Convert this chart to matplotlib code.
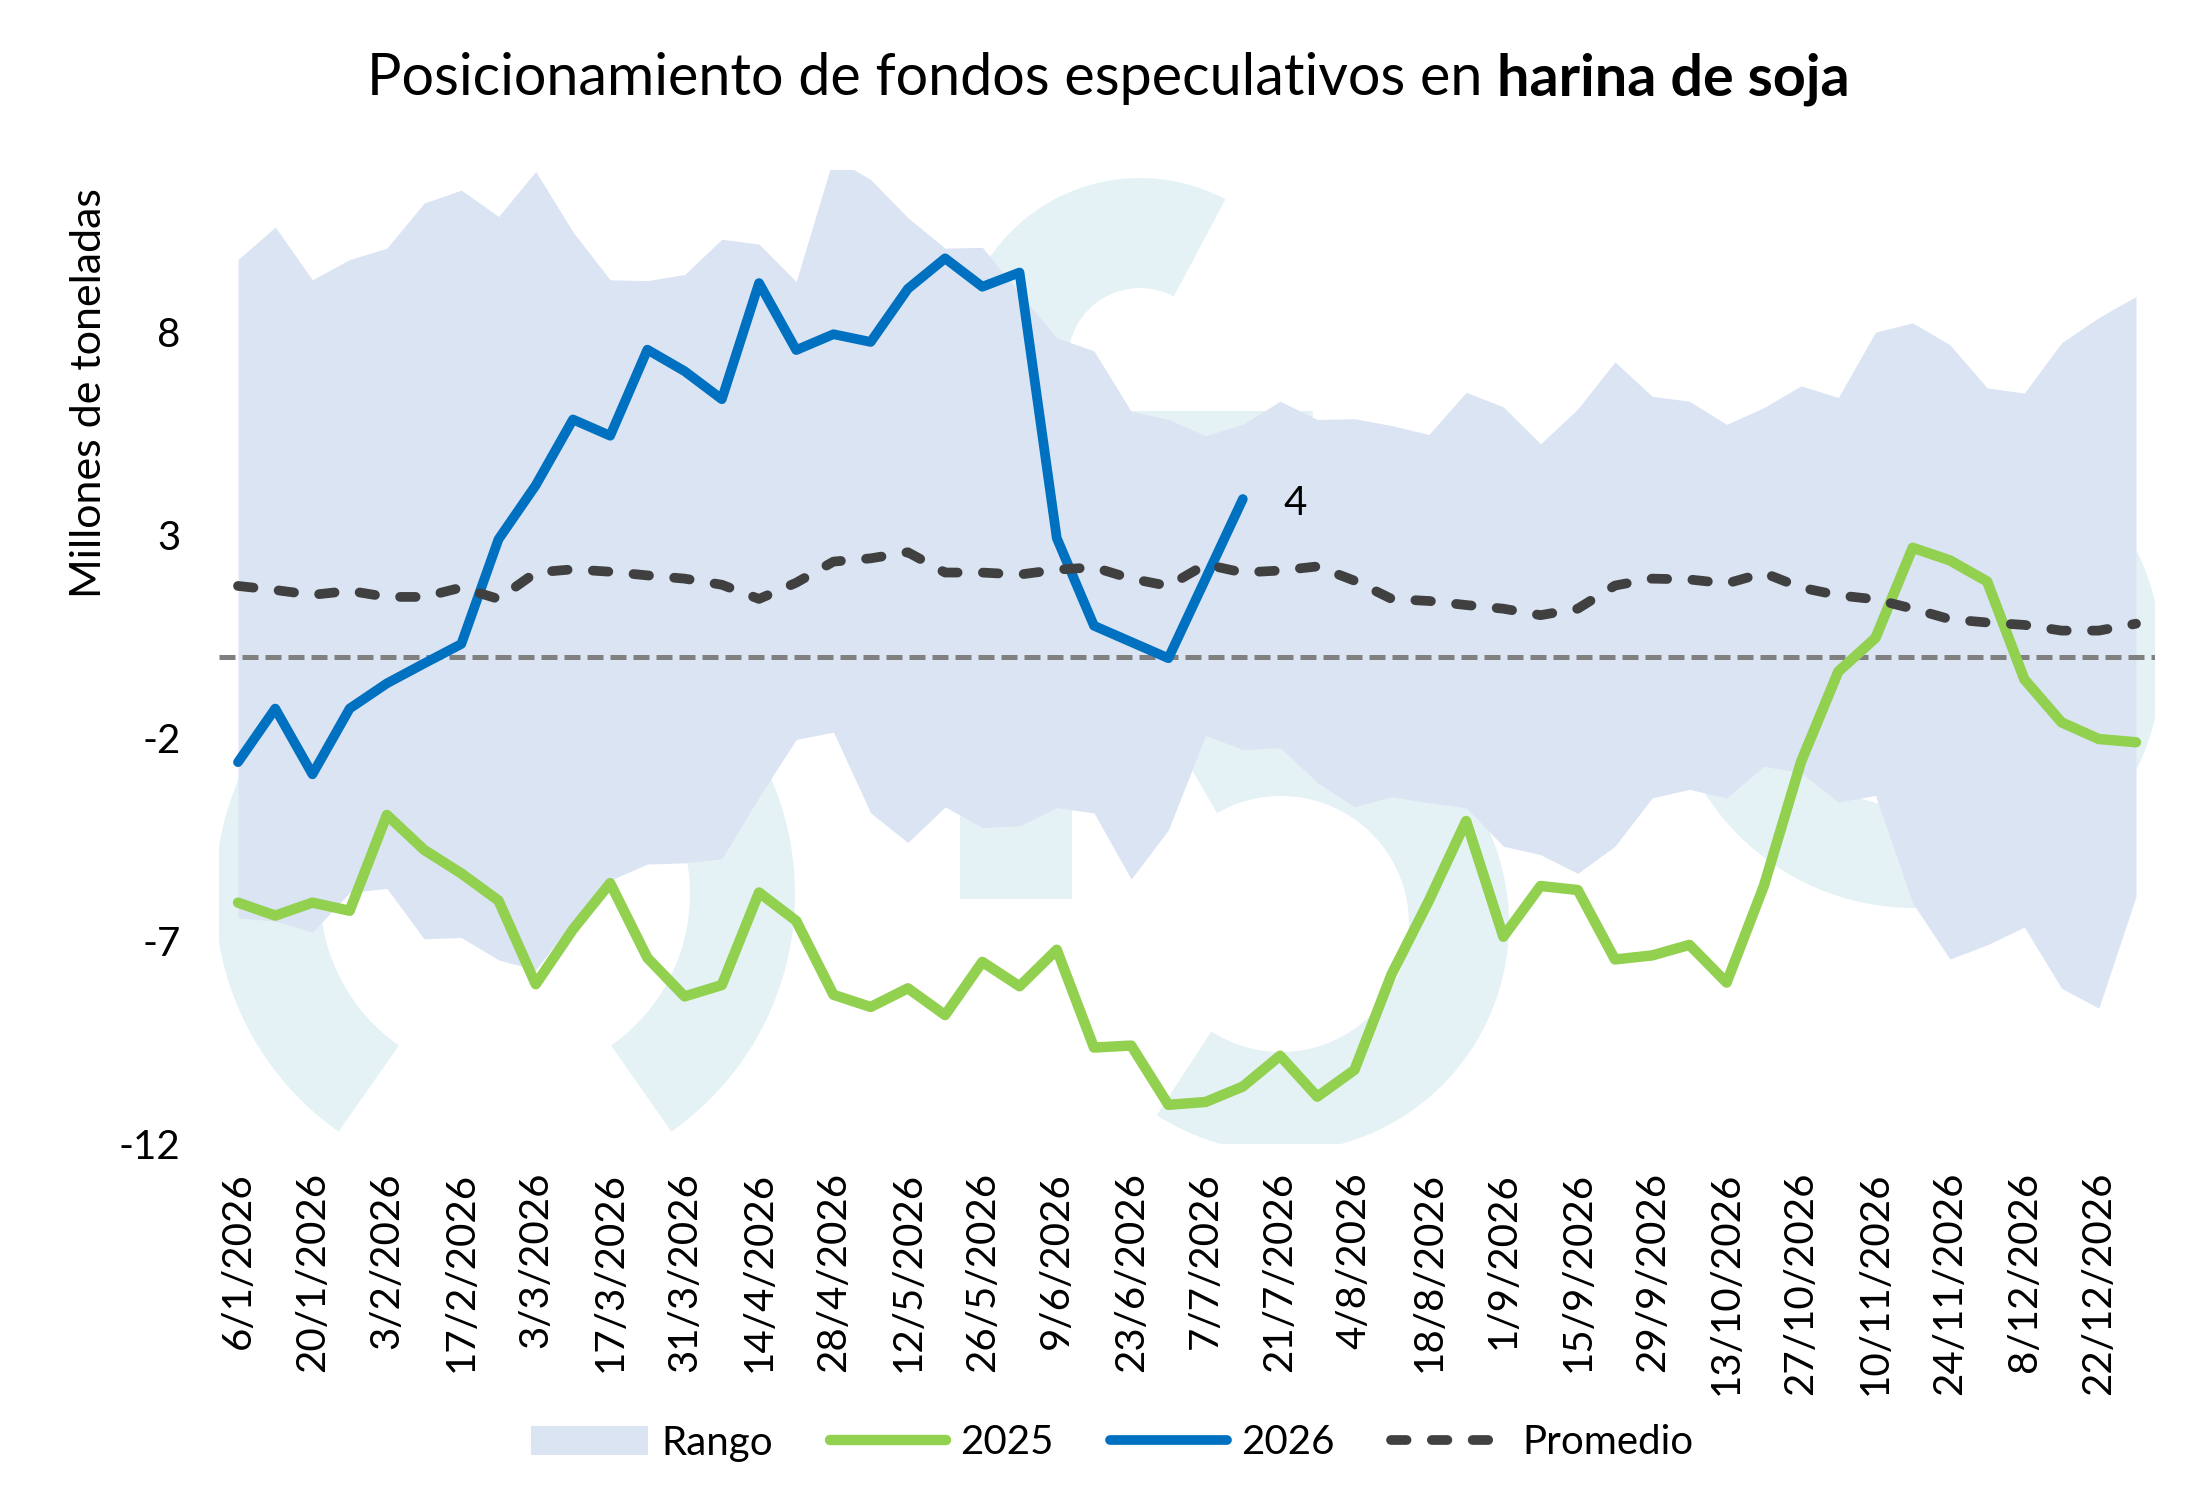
import numpy as np
import pandas as pd
import matplotlib
matplotlib.use("Agg")
import matplotlib.pyplot as plt
import matplotlib.patches as mpatches
import matplotlib.transforms as mtransforms
from matplotlib.lines import Line2D

# ---------------- data ----------------
weeks = pd.date_range("2026-01-06", periods=52, freq="7D")

rango_max = [9.79, 10.59, 9.29, 9.79, 10.07, 11.18, 11.5, 10.85, 11.96, 10.47,
             9.29, 9.27, 9.42, 10.29, 10.17, 9.25, 12.3, 11.76, 10.82, 10.07,
             10.09, 8.96, 7.86, 7.54, 6.05, 5.85, 5.45, 5.73, 6.3, 5.85,
             5.87, 5.70, 5.48, 6.52, 6.16, 5.25, 6.11, 7.27, 6.42, 6.3,
             5.73, 6.14, 6.68, 6.39, 8.0, 8.23, 7.69, 6.63, 6.5, 7.74,
             8.36, 8.88]
rango_min = [-6.43, -6.5, -6.78, -5.8, -5.7, -6.94, -6.91, -7.46, -7.71, -6.5,
             -5.5, -5.1, -5.07, -4.97, -3.45, -2.03, -1.85, -3.84, -4.57, -3.69,
             -4.2, -4.16, -3.71, -3.84, -5.47, -4.26, -1.93, -2.28, -2.23, -3.09,
             -3.69, -3.44, -3.59, -3.71, -4.66, -4.87, -5.33, -4.66, -3.47, -3.26,
             -3.47, -2.69, -2.85, -3.57, -3.41, -6.06, -7.44, -7.09, -6.65, -8.16,
             -8.65, -5.9]
serie_2025 = [-6.05, -6.37, -6.05, -6.25, -3.89, -4.75, -5.33, -6.0, -8.06, -6.71,
              -5.57, -7.41, -8.36, -8.08, -5.8, -6.5, -8.32, -8.62, -8.16, -8.82,
              -7.51, -8.11, -7.21, -9.62, -9.57, -11.03, -10.96, -10.58, -9.82, -10.83,
              -10.17, -7.81, -6.0, -4.04, -6.89, -5.64, -5.74, -7.45, -7.35, -7.09,
              -8.02, -5.64, -2.58, -0.36, 0.47, 2.69, 2.38, 1.86, -0.55, -1.61,
              -2.02, -2.1]
serie_2026 = [-2.59, -1.27, -2.89, -1.27, -0.65, -0.16, 0.32, 2.9, 4.23, 5.85,
              5.45, 7.57, 7.04, 6.35, 9.21, 7.56, 7.95, 7.76, 9.07, 9.82,
              9.12, 9.47, 2.93, 0.77, 0.37, -0.03, 1.93, 3.89]
promedio = [1.75, 1.65, 1.53, 1.63, 1.48, 1.48, 1.71, 1.43, 2.08, 2.16,
            2.10, 2.01, 1.93, 1.78, 1.43, 1.83, 2.35, 2.43, 2.58, 2.08,
            2.08, 2.03, 2.15, 2.21, 1.93, 1.75, 2.28, 2.08, 2.13, 2.23,
            1.88, 1.43, 1.38, 1.28, 1.19, 1.03, 1.19, 1.76, 1.93, 1.91,
            1.81, 2.07, 1.71, 1.52, 1.42, 1.19, 0.93, 0.85, 0.79, 0.65,
            0.65, 0.82]
yticks = [-12, -7, -2, 3, 8]
legend_labels = ["Rango", "2025", "2026", "Promedio"]
title_normal = "Posicionamiento de fondos especulativos en "
title_bold = "harina de soja"
ylabel = "Millones de toneladas"

# ---------------- style ----------------
plt.rcParams["font.family"] = ["Lato", "DejaVu Sans"]
C_RANGE = "#dbe4f3"
C_2025 = "#92d050"
C_2026 = "#0070c0"
C_AVG = "#404040"
C_ZERO = "#808080"
C_WM = "#e4f2f6"
LW_2025, LW_2026, LW_AVG = 7.5, 7.0, 7.0

W, H = 2207, 1506
fig = plt.figure(figsize=(W / 100, H / 100), dpi=100)
ax = fig.add_axes([219.4 / W, 1 - 1144.2 / H, (2154.6 - 219.4) / W, (1144.2 - 169.8) / H])
for s in ax.spines.values():
    s.set_visible(False)

# watermark (decorative logo shapes) in pixel coordinates, y upwards, behind the data
pix = mtransforms.Affine2D().scale(1 / W, 1 / H) + fig.transFigure
wm = [
    mpatches.Wedge((505, H - 894), 290, -55, 235, width=105),
    mpatches.Wedge((1140, H - 360), 182, 62, 180, width=110),
    mpatches.Rectangle((960, H - 899), 112, 539),
    mpatches.Rectangle((1130, H - 500), 183, 89),
    mpatches.Wedge((1281, H - 924), 228, -123, 120, width=100),
    mpatches.Wedge((1914, H - 660), 248, 0, 360, width=100),
]
for p in wm:
    p.set_transform(pix)
    p.set_facecolor(C_WM)
    p.set_edgecolor("none")
    p.set_zorder(0.5)
    ax.add_artist(p)
    p.set_clip_path(ax.patch)

ax.fill_between(weeks, rango_min, rango_max, color=C_RANGE, lw=0, zorder=1)
ax.axhline(0, color=C_ZERO, lw=3.6, dashes=(3.2, 1.4), zorder=2)
ax.plot(weeks, serie_2025, color=C_2025, lw=LW_2025, solid_joinstyle="round",
        solid_capstyle="round", zorder=4)
ax.plot(weeks[:len(serie_2026)], serie_2026, color=C_2026, lw=LW_2026,
        solid_joinstyle="round", solid_capstyle="round", zorder=5)
ax.plot(weeks, promedio, color=C_AVG, lw=LW_AVG, dashes=(1.6, 2.6),
        dash_capstyle="round", dash_joinstyle="round", zorder=6)

ax.annotate(f"{serie_2026[-1]:.0f}", xy=(weeks[len(serie_2026) - 1], serie_2026[-1]),
            xytext=(29.5, -3.5), textcoords="offset points", ha="left", va="center",
            fontsize=29, color="black")

ax.set_ylim(-12, 12)
ax.set_xlim(weeks[0] - pd.Timedelta(days=3.5), weeks[-1] + pd.Timedelta(days=3.5))
ax.set_yticks(yticks)
ax.set_yticklabels([str(v) for v in yticks], fontsize=29)
ax.set_xticks(weeks[::2])
ax.set_xticklabels([f"{d.day}/{d.month}/{d.year}" for d in weeks[::2]],
                   rotation=90, fontsize=29)
ax.tick_params(axis="y", length=0, pad=28)
ax.tick_params(axis="x", length=0, pad=20)

fig.text(89 / W, 1 - 393 / H, ylabel, rotation=90, ha="center", va="center", fontsize=31)

# title: normal + bold part, centred
fs = 44
t1 = fig.text(0, 1 - 95 / H, title_normal, fontsize=fs, ha="left", va="baseline")
t2 = fig.text(0, 1 - 95 / H, title_bold, fontsize=fs, fontweight="bold", ha="left", va="baseline")
fig.canvas.draw()
r = fig.canvas.get_renderer()
w1 = t1.get_window_extent(r).width
w2 = t2.get_window_extent(r).width
scale = 1486 / (w1 + w2)
t1.set_fontsize(fs * scale)
t2.set_fontsize(fs * scale)
fig.canvas.draw()
w1 = t1.get_window_extent(r).width
w2 = t2.get_window_extent(r).width
x0 = 1108 - (w1 + w2) / 2
t1.set_x(x0 / W)
t2.set_x((x0 + w1) / W)

handles = [
    mpatches.Patch(facecolor=C_RANGE, edgecolor="none"),
    Line2D([], [], color=C_2025, lw=LW_2025, solid_capstyle="round"),
    Line2D([], [], color=C_2026, lw=LW_2026, solid_capstyle="round"),
    Line2D([], [], color=C_AVG, lw=LW_AVG, dashes=(1.6, 2.6), dash_capstyle="round"),
]
fig.legend(handles, legend_labels, loc="center", bbox_to_anchor=(1112 / W, 1 - 1443 / H),
           ncol=4, frameon=False, fontsize=29, handlelength=2.9, handletextpad=0.35,
           columnspacing=1.4)

fig.savefig("out.png", dpi=100)
